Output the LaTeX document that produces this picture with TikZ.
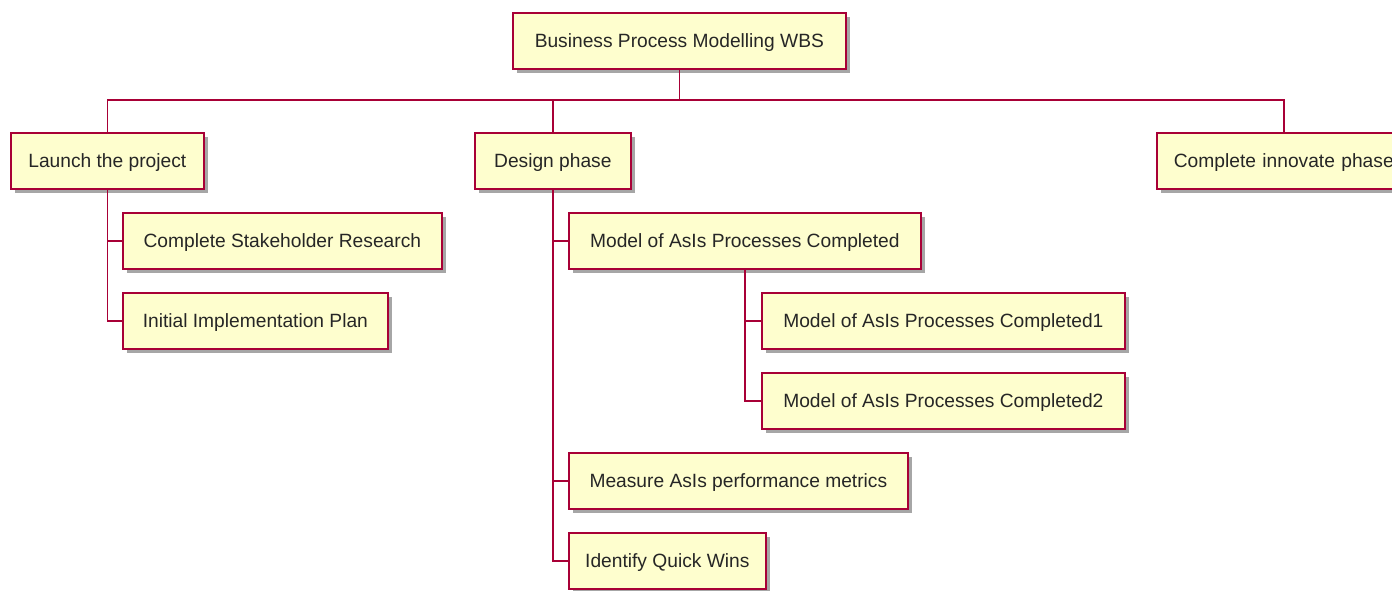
\documentclass[tikz,border=0pt]{standalone}
\usepackage{fontspec}
\setmainfont{Liberation Sans}
\usetikzlibrary{shadows}
\definecolor{wbsfill}{HTML}{FEFECE}
\definecolor{wbsline}{HTML}{A80036}
\tikzset{
  wbsbox/.style={draw=wbsline, line width=1.7pt, fill=wbsfill, anchor=north west,
    minimum height=56pt, inner xsep=0pt, text height=16pt, text depth=2pt,
    font=\fontsize{19.2}{23}\selectfont, text=black!85,
    drop shadow={shadow xshift=4pt, shadow yshift=-4pt, fill=black, opacity=0.35}},
  wbslink/.style={draw=wbsline, line width=1.3pt}
}
\begin{document}
\begin{tikzpicture}[x=1pt,y=-1pt]
\useasboundingbox (0,0) rectangle (1392,590);
\clip (0,0) rectangle (1392,590);
\node[wbsbox, minimum width=333pt] (root) at (512,12) {Business Process Modelling WBS};
\node[wbsbox, minimum width=193pt] (launch) at (10,132) {Launch the project};
\node[wbsbox, minimum width=156pt] (design) at (474,132) {Design phase};
\node[wbsbox, align=left, text width=220pt, inner xsep=17pt] (innov) at (1156,132) {Complete innovate phase};
\node[wbsbox, minimum width=319pt] (csr) at (122,212) {Complete Stakeholder Research};
\node[wbsbox, minimum width=265pt] (iip) at (122,292) {Initial Implementation Plan};
\node[wbsbox, minimum width=352pt] (model) at (568,212) {Model of AsIs Processes Completed};
\node[wbsbox, minimum width=363pt] (model1) at (761,292) {Model of AsIs Processes Completed1};
\node[wbsbox, minimum width=363pt] (model2) at (761,372) {Model of AsIs Processes Completed2};
\node[wbsbox, minimum width=339pt] (measure) at (568,452) {Measure AsIs performance metrics};
\node[wbsbox, minimum width=197pt] (quick) at (568,532) {Identify Quick Wins};
\coordinate (bus) at (0,100);
\draw[wbslink] (root.south) -- (root.south |- bus) -| (launch.north);
\draw[wbslink] (root.south |- bus) -| (design.north);
\draw[wbslink] (root.south |- bus) -| (innov.north);
\draw[wbslink] (launch.south) |- (csr.west);
\draw[wbslink] (launch.south) |- (iip.west);
\draw[wbslink] (design.south) |- (model.west);
\draw[wbslink] (design.south) |- (measure.west);
\draw[wbslink] (design.south) |- (quick.west);
\draw[wbslink] (model.south) |- (model1.west);
\draw[wbslink] (model.south) |- (model2.west);
\end{tikzpicture}
\end{document}
